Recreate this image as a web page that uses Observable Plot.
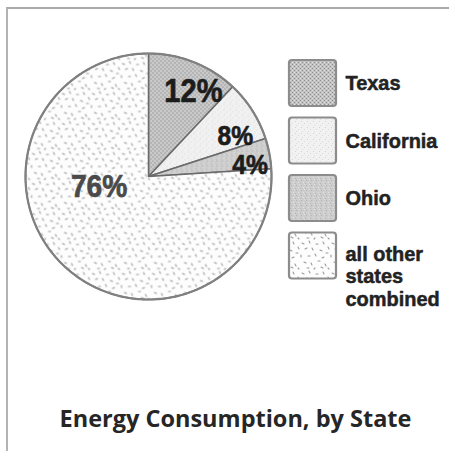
<!DOCTYPE html>
<html><head><meta charset="utf-8">
<script src="https://cdn.jsdelivr.net/npm/d3@7"></script>
<script src="https://cdn.jsdelivr.net/npm/@observablehq/plot@0.6"></script>
<style>
html,body{margin:0;padding:0;background:#fff;}
#frame{position:relative;width:449px;height:451px;overflow:hidden}
#frame:before{content:"";position:absolute;left:6px;top:7px;right:-10px;bottom:-10px;border-top:2px solid #a9a9a9;border-left:2px solid #b3b3b3;}
#frame svg{position:absolute;left:0;top:0}
</style></head><body><div id="frame"></div>
<script>
// ---- data ----
const states = ["Texas", "California", "Ohio", "all other states combined"];
const shares = [12, 8, 4, 76];
const legendLines = [["Texas"], ["California"], ["Ohio"], ["all other", "states", "combined"]];
const title = "Energy Consumption, by State";

// ---- layout ----
const W = 449, H = 451;
const cx = 148, cy = 176, R = 123;
const labelPolar = [[0.78, 27.9], [0.78, 64.8], [0.83, 83.8], [0.41, 258.5]]; // [radius fraction, degrees]
const labelSize = [33, 28, 28, 32];
const labelColor = ["#1c1c1c", "#1c1c1c", "#1c1c1c", "#4a4a4a"];
const legX1 = 289, legX2 = 336, legTop = 60, legSize = 46, legStep = 57.5;
const boldFont = "'Liberation Sans',Arial,sans-serif";

const arcs = d3.pie().sort(null).value(d => d)(shares);
const slices = arcs.map((a, i) => {
  const pts = [{x: cx, y: cy}];
  const n = Math.max(2, Math.ceil((a.endAngle - a.startAngle) / (Math.PI / 180)));
  for (let k = 0; k <= n; k++) {
    const t = a.startAngle + (a.endAngle - a.startAngle) * k / n;
    pts.push({x: cx + R * Math.sin(t), y: cy - R * Math.cos(t)});
  }
  pts.push({x: cx, y: cy});
  return pts;
});
const labels = shares.map((v, i) => {
  const [f, deg] = labelPolar[i];
  const t = deg * Math.PI / 180;
  return {text: v + "%", x: cx + f * R * Math.sin(t), y: cy - f * R * Math.cos(t), size: labelSize[i], color: labelColor[i]};
});
const legend = states.map((s, i) => ({i, x1: legX1, x2: legX2, y1: legTop + i * legStep, y2: legTop + i * legStep + legSize}));
const legendText = legendLines.flatMap((lines, i) => lines.map((t, j) => ({
  t, x: 345, y: legTop + i * legStep + legSize / 2 + (lines.length > 1 ? (j * 22.5 - 2) : 0)
})));

const marks = [];
slices.forEach((pts, i) => marks.push(Plot.line(pts, {x: "x", y: "y", fill: `url(#pat${i})`, stroke: "#6a6a6a", strokeWidth: 1.5, strokeLinejoin: "round"})));
marks.push(Plot.line(d3.range(0, 361).map(d => ({x: cx + R * Math.sin(d * Math.PI / 180), y: cy - R * Math.cos(d * Math.PI / 180)})), {x: "x", y: "y", stroke: "#808080", strokeWidth: 2.2}));
labels.forEach(l => marks.push(Plot.text([l], {x: "x", y: "y", text: "text", fontSize: l.size, fontWeight: "bold", fontFamily: boldFont, fill: l.color, stroke: l.color, strokeWidth: 0.7})));
legend.forEach(l => marks.push(Plot.rect([l], {x1: "x1", x2: "x2", y1: "y1", y2: "y2", fill: `url(#pat${l.i})`, stroke: "#8c8c8c", strokeWidth: 2.2, rx: 3})));
marks.push(Plot.text(legendText, {x: "x", y: "y", text: "t", textAnchor: "start", fontSize: 21, fontWeight: "bold", fontFamily: boldFont, fill: "#222", stroke: "#222", strokeWidth: 0.5}));
marks.push(Plot.text([{t: title}], {x: () => 235, y: () => 419, text: "t", fontSize: 23.5, fontWeight: "bold", fontFamily: "'Open Sans',sans-serif", fill: "#262626"}));

const chart = Plot.plot({
  width: W, height: H, margin: 0,
  x: {domain: [0, W], range: [0, W], axis: null},
  y: {domain: [0, H], range: [0, H], axis: null},
  style: {background: "transparent", overflow: "visible"},
  marks
});

// condense the bold labels (all text marks except the title)
const textGroups = Array.from(chart.querySelectorAll("g[aria-label='text']"));
textGroups.slice(0, -1).forEach((g, gi) => g.querySelectorAll("text").forEach(t => {
  const s = gi < 4 ? 0.88 : 0.95;
  const x = +t.getAttribute("x") || 0, y = +t.getAttribute("y") || 0;
  const tr = t.getAttribute("transform") || "";
  t.setAttribute("transform", `${tr} translate(${x},${y}) scale(${s},1) translate(${-x},${-y})`);
}));

const defs = `
<defs>
 <pattern id="pat0" width="4" height="4" patternUnits="userSpaceOnUse">
  <rect width="4" height="4" fill="#c2c2c2"/>
  <rect x="0" y="0" width="1" height="1" fill="#8e8e8e"/>
  <rect x="2" y="2" width="1" height="1" fill="#8e8e8e"/>
  <rect x="2" y="0" width="1" height="1" fill="#dedede"/>
  <rect x="0" y="2" width="1" height="1" fill="#dedede"/>
 </pattern>
 <pattern id="pat1" width="6" height="6" patternUnits="userSpaceOnUse">
  <rect width="6" height="6" fill="#f1f1f1"/>
  <rect x="1" y="1" width="1" height="1" fill="#d4d4d4"/>
  <rect x="4" y="3" width="1" height="1" fill="#d9d9d9"/>
  <rect x="2" y="5" width="1" height="1" fill="#dcdcdc"/>
 </pattern>
 <pattern id="pat2" width="5" height="5" patternUnits="userSpaceOnUse">
  <rect width="5" height="5" fill="#cdcdcd"/>
  <rect x="1" y="0" width="1" height="1" fill="#b2b2b2"/>
  <rect x="3" y="2" width="1" height="1" fill="#e2e2e2"/>
  <rect x="0" y="3" width="1" height="1" fill="#b5b5b5"/>
  <rect x="4" y="4" width="1" height="1" fill="#e0e0e0"/>
 </pattern>
 <pattern id="pat3" width="30" height="30" patternUnits="userSpaceOnUse">
  <rect width="30" height="30" fill="#fdfdfd"/>
  <g stroke="#9a9a9a" stroke-width="1.1" stroke-linecap="round">
   <path d="M2 3l2 1M9 1l1 2M16 4l2 0M23 2l1 2M28 7l1 2M5 9l2-1M12 8l1 2M20 10l2 1M26 13l2 0M1 15l0 2M8 16l2 0M15 14l1 2M22 18l2-1M4 22l2 1M11 23l1 2M18 21l2 0M25 24l1 2M7 28l2 0M14 29l1-1M21 27l2 1M28 28l1 1"/>
  </g>
 </pattern>
</defs>`;
chart.insertAdjacentHTML("afterbegin", defs);
document.getElementById("frame").appendChild(chart);
</script>
</body></html>
